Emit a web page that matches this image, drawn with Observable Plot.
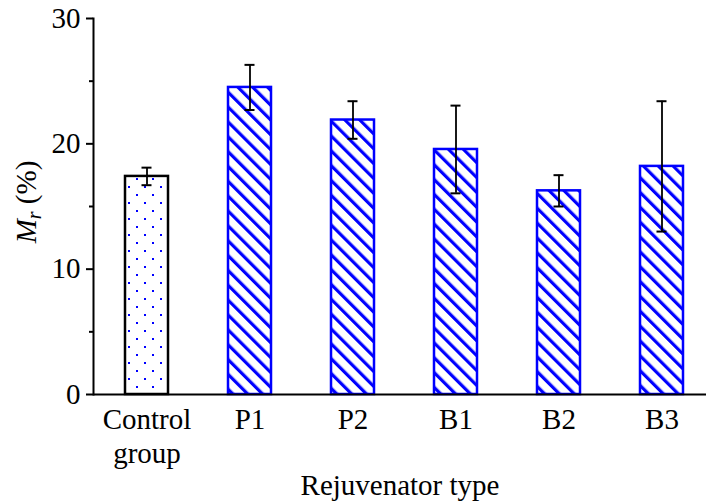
<!DOCTYPE html>
<html>
<head>
<meta charset="utf-8">
<script src="https://cdn.jsdelivr.net/npm/d3@7"></script>
<script src="https://cdn.jsdelivr.net/npm/@observablehq/plot@0.6"></script>
<style>
  body { margin: 0; background: #fff; }
</style>
</head>
<body>
<div id="chart"></div>
<script>
// Mean Mr (%) per rejuvenator type, with error bar half-widths
const groups = ["Control group", "P1", "P2", "B1", "B2", "B3"];
const means = [17.4, 24.5, 21.9, 19.55, 16.25, 18.2];
const errors = [0.7, 1.8, 1.5, 3.5, 1.25, 5.2];
const yMajorTicks = [0, 10, 20, 30];
const yMinorTicks = [5, 15, 25];
const tickLabels = { "Control group": "Control\ngroup" };

const data = groups.map((g, i) => ({
  group: g,
  mean: means[i],
  lo: means[i] - errors[i],
  hi: means[i] + errors[i]
}));
const isControl = d => d.group === groups[0];

const chart = Plot.plot({
  width: 706,
  height: 503,
  marginLeft: 93,
  marginRight: 0,
  marginTop: 18,
  marginBottom: 109,
  style: {
    fontFamily: "'Liberation Serif', 'Times New Roman', serif",
    fontSize: "29px",
    color: "#000",
    background: "#fff",
    overflow: "hidden"
  },
  x: { domain: groups, range: [93, 714.6], paddingInner: 0.58, paddingOuter: 0.293 },
  y: { domain: [0, 30], range: [394, 18] },
  color: { type: "identity" },
  marks: [
    Plot.barY(data, {
      x: "group",
      y: "mean",
      fill: d => isControl(d) ? "url(#dots)" : "url(#hatch)",
      stroke: d => isControl(d) ? "#000" : "#0000ff",
      strokeWidth: 2.5
    }),
    // error bars
    Plot.ruleX(data, { x: "group", y1: "lo", y2: "hi", stroke: "#000", strokeWidth: 1.8 }),
    Plot.tickY(data, { x: "group", y: "lo", stroke: "#000", strokeWidth: 2, inset: 16.5 }),
    Plot.tickY(data, { x: "group", y: "hi", stroke: "#000", strokeWidth: 2, inset: 16.5 }),
    // axes
    Plot.axisY({ ticks: yMajorTicks, tickSize: 7, tickPadding: 6, label: null, strokeWidth: 2 }),
    Plot.axisY({ ticks: yMinorTicks, tickSize: 4, tickFormat: () => "", label: null, strokeWidth: 2 }),
    Plot.frame({ anchor: "left", stroke: "#000", strokeWidth: 2 }),
    Plot.ruleY([0], { stroke: "#000", strokeWidth: 2 }),
    Plot.axisX({
      tickSize: 0,
      tickPadding: 11,
      tickFormat: g => tickLabels[g] ?? g,
      lineHeight: 1.16,
      label: "Rejuvenator type",
      labelAnchor: "center",
      labelOffset: 100
    })
  ]
});

// fill patterns for the bars
const svg = d3.select(chart);
const defs = svg.insert("defs", ":first-child");

const dots = defs.append("pattern")
  .attr("id", "dots")
  .attr("patternUnits", "userSpaceOnUse")
  .attr("width", 16)
  .attr("height", 16);
dots.append("rect").attr("width", 16).attr("height", 16).attr("fill", "#fff");
dots.append("rect").attr("x", 0).attr("y", 10).attr("width", 2).attr("height", 2).attr("fill", "#0000ff");
dots.append("rect").attr("x", 8).attr("y", 2).attr("width", 2).attr("height", 2).attr("fill", "#0000ff");

const hatch = defs.append("pattern")
  .attr("id", "hatch")
  .attr("patternUnits", "userSpaceOnUse")
  .attr("width", 10.5)
  .attr("height", 10.5)
  .attr("patternTransform", "rotate(-45)");
hatch.append("rect").attr("width", 10.5).attr("height", 10.5).attr("fill", "#fff");
hatch.append("rect").attr("x", 0).attr("width", 3.2).attr("height", 10.5).attr("fill", "#0000ff");

// y-axis title with italic M and subscript r
const ylab = svg.append("text")
  .attr("transform", "translate(36,202) rotate(-90)")
  .attr("text-anchor", "middle")
  .attr("fill", "#000")
  .attr("font-size", 29);
ylab.append("tspan").attr("font-style", "italic").text("M");
ylab.append("tspan").attr("font-style", "italic").attr("font-size", 20).attr("dy", 5).text("r");
ylab.append("tspan").attr("dy", -5).text(" (%)");

document.getElementById("chart").append(chart);
</script>
</body>
</html>
